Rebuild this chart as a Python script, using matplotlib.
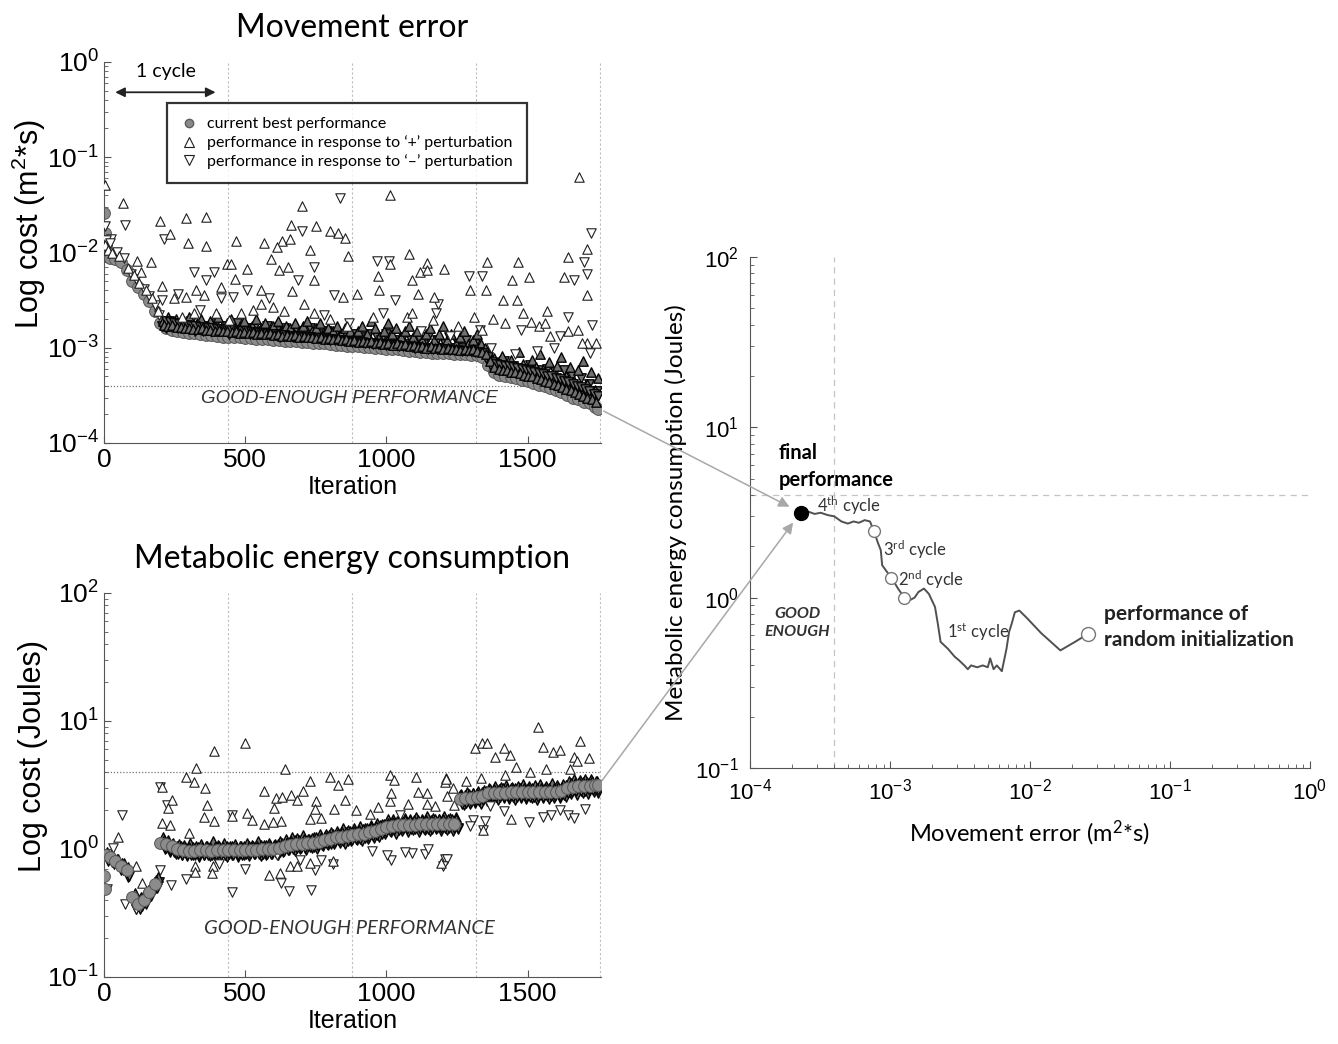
import numpy as np
import matplotlib.pyplot as plt
from matplotlib.lines import Line2D
from matplotlib.patches import ConnectionPatch

plt.rcParams['font.family'] = ['Liberation Sans', 'DejaVu Sans']
plt.rcParams['mathtext.default'] = 'regular'
CAL = ['Lato', 'DejaVu Sans']   # closest installed face to the Calibri-like labels

# ---------------- movement error (top left) ----------------
err_best_iter = [0, 3, 6, 10] + list(range(20, 1741, 20)) + [1750]
err_best = [0.0258, 0.016, 0.012, 0.0091,
            0.0087, 0.0085, 0.0080, 0.0066, 0.0050, 0.0043, 0.0037, 0.0031, 0.0024, 0.0018,
            0.00162, 0.00155, 0.00150, 0.00146, 0.00143, 0.00141, 0.00139, 0.00137, 0.00135, 0.00133,
            0.00131, 0.00130, 0.00129, 0.00128, 0.00127, 0.00126, 0.00124, 0.00123, 0.00122, 0.00121,
            0.00120, 0.00119, 0.00118, 0.00117, 0.00116, 0.00115, 0.00113, 0.00112, 0.00111, 0.00110,
            0.00108, 0.00107, 0.00105, 0.00104, 0.00103, 0.00102, 0.00101, 0.00100, 0.00099, 0.00098,
            0.00097, 0.00096, 0.00095, 0.00093, 0.00092, 0.00091, 0.00090, 0.00089, 0.00088, 0.00088,
            0.00087, 0.00086, 0.00085, 0.00085, 0.00084, 0.00083, 0.00080, 0.00066, 0.00055, 0.00052,
            0.00051, 0.00049, 0.00048, 0.00046, 0.00045, 0.00043, 0.00041, 0.00040, 0.00038, 0.00036,
            0.00034, 0.00032, 0.00030, 0.00029, 0.00027, 0.00026, 0.00024,
            0.00023]

err_plus = [(4, 0.051), (67, 0.033), (200, 0.0213), (290, 0.023), (360, 0.0236), (234, 0.0155),
            (297, 0.0127), (360, 0.0117), (469, 0.0132), (566, 0.0127), (702, 0.031), (664, 0.0193),
            (751, 0.0189), (800, 0.0168), (827, 0.0161), (853, 0.0143), (1013, 0.040), (1681, 0.062),
            (1709, 0.0108), (632, 0.0132), (611, 0.0113), (590, 0.0085), (660, 0.0137), (730, 0.0106),
            (865, 0.0092), (1079, 0.0096), (1144, 0.0077), (1204, 0.0067), (1358, 0.0079), (1466, 0.0079),
            (1504, 0.0055), (1444, 0.0051), (1644, 0.0089), (1709, 0.0036), (1630, 0.0055), (116, 0.0082),
            (165, 0.0080), (130, 0.0062), (207, 0.0044), (437, 0.0076), (451, 0.0076), (507, 0.0067),
            (465, 0.0053), (416, 0.0043), (325, 0.0040), (353, 0.0036), (555, 0.0040), (618, 0.0065),
            (650, 0.0070), (971, 0.0057), (1013, 0.0076), (1118, 0.0062), (1145, 0.0065), (1092, 0.0051),
            (897, 0.0037), (1113, 0.0037), (1169, 0.0034), (1295, 0.0040), (1351, 0.0040), (667, 0.0039),
            (744, 0.0051), (848, 0.0034), (974, 0.0040), (248, 0.0033), (290, 0.0034), (1413, 0.00316),
            (1462, 0.00316), (1567, 0.0024), (1379, 0.0020), (1483, 0.0023), (1539, 0.00168), (1511, 0.00188),
            (1709, 0.00113), (1741, 0.00113), (1072, 0.0021), (1090, 0.0023), (1166, 0.00196), (953, 0.0021),
            (1309, 0.0021), (1253, 0.00168), (1337, 0.00155), (1581, 0.00132), (1644, 0.00148), (1679, 0.00155),
            (1693, 0.00113), (1560, 0.00182), (1420, 0.00182), (555, 0.0029), (639, 0.0024), (744, 0.0023),
            (318, 0.0023), (276, 0.0021), (395, 0.0023), (527, 0.0025), (597, 0.0027), (709, 0.0029),
            (800, 0.0020), (862, 0.00168), (486, 0.0023), (444, 0.00196),
            (5, 0.012), (15, 0.0105), (30, 0.0098), (55, 0.0092), (85, 0.0068), (105, 0.0058),
            (125, 0.0048), (150, 0.0040), (170, 0.0033), (190, 0.0024)]

err_minus = [(4, 0.0189), (74, 0.0196), (25, 0.0137), (213, 0.0137), (834, 0.037), (702, 0.0168),
             (967, 0.0082), (1009, 0.0081), (318, 0.0062), (388, 0.0063), (360, 0.0051), (744, 0.0070),
             (688, 0.0051), (813, 0.0036), (1292, 0.0056), (1339, 0.0056), (1699, 0.0079), (1665, 0.0051),
             (1709, 0.0060), (1723, 0.0161), (1644, 0.0021), (1727, 0.00174), (1330, 0.00155), (1372, 0.0010),
             (1455, 0.00085), (1532, 0.00092), (1595, 0.0010), (1720, 0.00089), (1616, 0.00132), (869, 0.0018),
             (779, 0.0022), (507, 0.0040), (416, 0.0033), (207, 0.0032), (339, 0.0025), (1176, 0.0023),
             (988, 0.0023), (1476, 0.00155), (1121, 0.00149), (1225, 0.00132), (583, 0.0033), (458, 0.0034),
             (262, 0.0037), (1030, 0.0032), (1183, 0.0029),
             (8, 0.0135), (20, 0.0125), (45, 0.0100), (70, 0.0088), (95, 0.0060), (115, 0.0052),
             (140, 0.0041), (160, 0.0035), (180, 0.0028), (195, 0.0022)]

# the dense dark band of trials sitting just above the best performance
err_plus_band = [(210, 0.0019), (225, 0.0021), (240, 0.0018), (255, 0.0020), (270, 0.0017), (285, 0.0019),
                 (300, 0.0021), (315, 0.0017), (330, 0.0018), (345, 0.0020), (360, 0.0016), (375, 0.0019),
                 (390, 0.0017), (405, 0.0021), (420, 0.0016), (435, 0.0018), (450, 0.0020), (465, 0.0016),
                 (480, 0.0017), (495, 0.0019), (510, 0.0015), (525, 0.0017), (540, 0.0020), (555, 0.0016),
                 (570, 0.0018), (585, 0.0015), (600, 0.0017), (615, 0.0019), (630, 0.0015), (645, 0.0017),
                 (660, 0.0016), (675, 0.0018), (690, 0.0015), (705, 0.0017), (720, 0.0019), (735, 0.0015),
                 (750, 0.0016), (765, 0.0018), (780, 0.0014), (795, 0.0016), (810, 0.0015), (825, 0.0017),
                 (840, 0.0014), (855, 0.0016), (870, 0.0015), (885, 0.0013), (900, 0.0015), (915, 0.0017),
                 (930, 0.0014), (945, 0.0019), (960, 0.0016), (975, 0.0013), (990, 0.0015), (1005, 0.0018),
                 (1020, 0.0014), (1035, 0.0016), (1050, 0.0013), (1065, 0.0015), (1080, 0.0017), (1095, 0.0013),
                 (1110, 0.0015), (1125, 0.0012), (1140, 0.0014), (1155, 0.0016), (1170, 0.0012), (1185, 0.0014),
                 (1200, 0.0017), (1215, 0.0012), (1230, 0.0014), (1245, 0.0011), (1260, 0.0013), (1275, 0.0015),
                 (1290, 0.0011), (1305, 0.0012), (1320, 0.0014), (1335, 0.0011), (1350, 0.0010), (1365, 0.00085),
                 (1380, 0.00078), (1395, 0.00070), (1410, 0.00082), (1425, 0.00066), (1440, 0.00075), (1455, 0.00062),
                 (1470, 0.00090), (1485, 0.00068), (1500, 0.00058), (1515, 0.00075), (1530, 0.00062), (1545, 0.00085),
                 (1560, 0.00055), (1575, 0.00070), (1590, 0.00052), (1605, 0.00065), (1620, 0.00080), (1635, 0.00050),
                 (1650, 0.00062), (1665, 0.00045), (1680, 0.00058), (1695, 0.00072), (1710, 0.00042), (1725, 0.00055),
                 (1740, 0.00036), (1750, 0.00048)]

err_minus_band = [(205, 0.0017), (218, 0.0016), (232, 0.0019), (248, 0.0017), (262, 0.0016), (278, 0.0018),
                  (292, 0.0016), (308, 0.0019), (322, 0.0015), (338, 0.0017), (352, 0.0015), (368, 0.0017),
                  (382, 0.0015), (398, 0.0018), (412, 0.0015), (428, 0.0017), (442, 0.0014), (458, 0.0016),
                  (472, 0.0018), (488, 0.0015), (502, 0.0016), (518, 0.0014), (532, 0.0016), (548, 0.0014),
                  (562, 0.0015), (578, 0.0017), (592, 0.0014), (608, 0.0015), (622, 0.0013), (638, 0.0016),
                  (652, 0.0014), (668, 0.0013), (682, 0.0015), (698, 0.0013), (712, 0.0014), (728, 0.0016),
                  (742, 0.0013), (758, 0.0014), (772, 0.0013), (788, 0.0015), (802, 0.0012), (818, 0.0014),
                  (832, 0.0012), (848, 0.0013), (862, 0.0012), (878, 0.0014), (892, 0.0012), (908, 0.0013),
                  (922, 0.0012), (938, 0.0014), (952, 0.0011), (968, 0.0013), (982, 0.0012), (998, 0.0014),
                  (1012, 0.0011), (1028, 0.0012), (1042, 0.0011), (1058, 0.0013), (1072, 0.0011), (1088, 0.0012),
                  (1102, 0.0010), (1118, 0.0012), (1132, 0.0011), (1148, 0.0013), (1162, 0.0010), (1178, 0.0012),
                  (1192, 0.0010), (1208, 0.0011), (1222, 0.0013), (1238, 0.0010), (1252, 0.0011), (1268, 0.0010),
                  (1282, 0.0012), (1298, 0.00098), (1312, 0.0011), (1328, 0.00096), (1342, 0.00090), (1358, 0.00075),
                  (1372, 0.00065), (1388, 0.00062), (1402, 0.00060), (1418, 0.00072), (1432, 0.00058), (1448, 0.00065),
                  (1462, 0.00055), (1478, 0.00060), (1492, 0.00052), (1508, 0.00066), (1522, 0.00050), (1538, 0.00058),
                  (1552, 0.00047), (1568, 0.00060), (1582, 0.00045), (1598, 0.00055), (1612, 0.00042), (1628, 0.00058),
                  (1642, 0.00040), (1658, 0.00050), (1672, 0.00037), (1688, 0.00048), (1702, 0.00034), (1718, 0.00042),
                  (1732, 0.00031), (1745, 0.00035)]

# trials packed right on top of the best-performance strip
err_plus_near = [(212, 0.00175), (227, 0.00168), (242, 0.00172), (257, 0.00163), (272, 0.00165), (287, 0.0016),
                 (302, 0.00162), (317, 0.00158), (332, 0.00156), (347, 0.0016), (362, 0.00152), (377, 0.00155),
                 (392, 0.0015), (407, 0.00153), (422, 0.00148), (437, 0.0015), (452, 0.00146), (467, 0.00149),
                 (482, 0.00144), (497, 0.00147), (512, 0.00142), (527, 0.00145), (542, 0.0014), (557, 0.00143),
                 (572, 0.00138), (587, 0.00141), (602, 0.00136), (617, 0.00139), (632, 0.00134), (647, 0.00137),
                 (662, 0.00132), (677, 0.00135), (692, 0.0013), (707, 0.00133), (722, 0.00128), (737, 0.00131),
                 (752, 0.00126), (767, 0.00129), (782, 0.00124), (797, 0.00127), (812, 0.00122), (827, 0.00125),
                 (842, 0.0012), (857, 0.00123), (872, 0.00118), (887, 0.00121), (902, 0.00116), (917, 0.00119),
                 (932, 0.00114), (947, 0.00117), (962, 0.00112), (977, 0.00115), (992, 0.0011), (1007, 0.00113),
                 (1022, 0.00108), (1037, 0.00111), (1052, 0.00106), (1067, 0.00109), (1082, 0.00104), (1097, 0.00107),
                 (1112, 0.00102), (1127, 0.00105), (1142, 0.001), (1157, 0.00103), (1172, 0.00099), (1187, 0.00101),
                 (1202, 0.00097), (1217, 0.001), (1232, 0.00096), (1247, 0.00098), (1262, 0.00095), (1277, 0.00097),
                 (1292, 0.00094), (1307, 0.00096), (1322, 0.00093), (1337, 0.0009), (1352, 0.00086), (1367, 0.00072),
                 (1382, 0.00063), (1397, 0.00060), (1412, 0.00059), (1427, 0.00058), (1442, 0.00056), (1457, 0.00055),
                 (1472, 0.00054), (1487, 0.00052), (1502, 0.00051), (1517, 0.0005), (1532, 0.00048), (1547, 0.00047),
                 (1562, 0.00045), (1577, 0.00044), (1592, 0.00042), (1607, 0.00041), (1622, 0.00039), (1637, 0.00037),
                 (1652, 0.00036), (1667, 0.00034), (1682, 0.00033), (1697, 0.00031), (1712, 0.0003), (1727, 0.00029),
                 (1742, 0.00027)]

err_minus_near = [(219, 0.0019), (234, 0.00185), (249, 0.0018), (264, 0.00178), (279, 0.00175), (294, 0.00172),
                  (309, 0.0017), (324, 0.00168), (339, 0.00166), (354, 0.00164), (369, 0.00162), (384, 0.0016),
                  (399, 0.00158), (414, 0.00156), (429, 0.00155), (444, 0.00153), (459, 0.00152), (474, 0.0015),
                  (489, 0.00149), (504, 0.00148), (519, 0.00146), (534, 0.00145), (549, 0.00143), (564, 0.00142),
                  (579, 0.0014), (594, 0.00139), (609, 0.00138), (624, 0.00137), (639, 0.00136), (654, 0.00134),
                  (669, 0.00133), (684, 0.00132), (699, 0.0013), (714, 0.00129), (729, 0.00128), (744, 0.00127),
                  (759, 0.00126), (774, 0.00124), (789, 0.00123), (804, 0.00122), (819, 0.00121), (834, 0.0012),
                  (849, 0.00118), (864, 0.00117), (879, 0.00116), (894, 0.00115), (909, 0.00114), (924, 0.00113),
                  (939, 0.00112), (954, 0.00111), (969, 0.0011), (984, 0.00109), (999, 0.00108), (1014, 0.00107),
                  (1029, 0.00106), (1044, 0.00105), (1059, 0.00104), (1074, 0.00103), (1089, 0.00102), (1104, 0.00101),
                  (1119, 0.001), (1134, 0.00099), (1149, 0.00098), (1164, 0.00098), (1179, 0.00097), (1194, 0.00096),
                  (1209, 0.00096), (1224, 0.00095), (1239, 0.00094), (1254, 0.00094), (1269, 0.00093), (1284, 0.00092),
                  (1299, 0.00092), (1314, 0.00091), (1329, 0.0009), (1344, 0.00088), (1359, 0.0008), (1374, 0.0007),
                  (1389, 0.00068), (1404, 0.00066), (1419, 0.00065), (1434, 0.00064), (1449, 0.00062), (1464, 0.00061),
                  (1479, 0.0006), (1494, 0.00058), (1509, 0.00057), (1524, 0.00056), (1539, 0.00054), (1554, 0.00053),
                  (1569, 0.00051), (1584, 0.0005), (1599, 0.00048), (1614, 0.00047), (1629, 0.00045), (1644, 0.00044),
                  (1659, 0.00042), (1674, 0.0004), (1689, 0.00039), (1704, 0.00037), (1719, 0.00035), (1734, 0.00033),
                  (1748, 0.00031)]

# ---------------- metabolic energy (bottom left) ----------------
met_best_iter = [0, 3, 8] + list(range(20, 1741, 20)) + [1750]
met_best = [0.61, 0.49, 0.90,
            0.86, 0.80, 0.74, 0.68, 0.42, 0.37, 0.40, 0.46, 0.53, 1.12,
            1.10, 1.05, 1.00, 0.98, 0.97, 0.97, 0.98, 0.98, 0.97, 0.98,
            0.98, 0.99, 0.98, 0.98, 0.99, 0.99, 0.99, 1.00, 1.00, 1.00,
            1.02, 1.05, 1.08, 1.10, 1.10, 1.11, 1.12, 1.14, 1.17, 1.20,
            1.23, 1.25, 1.26, 1.28, 1.30, 1.32, 1.35, 1.38, 1.42, 1.48,
            1.52, 1.53, 1.54, 1.55, 1.55, 1.56, 1.56, 1.56, 1.57, 1.57,
            1.57, 1.58, 2.45, 2.48, 2.52, 2.55, 2.58, 2.72, 2.75, 2.76,
            2.76, 2.77, 2.77, 2.78, 2.78, 2.78, 2.79, 2.79, 2.80, 2.80,
            2.82, 3.00, 3.05, 3.08, 3.10, 3.12, 3.14,
            3.16]

met_plus = [(51, 1.25), (112, 0.73), (134, 0.54), (205, 1.59), (234, 1.55), (240, 2.41), (228, 2.08),
            (205, 3.07), (291, 3.67), (325, 4.27), (320, 3.36), (359, 2.98), (364, 2.21), (355, 1.79),
            (388, 5.86), (501, 6.7), (453, 1.81), (507, 1.92), (566, 2.84), (601, 2.10), (609, 2.49),
            (583, 0.63), (300, 1.33), (388, 1.66), (386, 0.73), (382, 0.65), (323, 0.73), (323, 0.66),
            (524, 1.67), (566, 1.57), (640, 4.2), (729, 3.42), (800, 3.67), (865, 3.5), (830, 3.16),
            (1012, 3.8), (1026, 3.47), (1106, 3.64), (1206, 3.36), (1212, 3.6), (705, 2.84), (631, 2.57),
            (664, 2.64), (682, 2.43), (752, 2.35), (852, 2.4), (893, 2.02), (814, 2.04), (746, 2.07),
            (770, 1.74), (729, 1.72), (942, 1.89), (971, 2.12), (1012, 2.35), (1018, 2.75), (1113, 2.78),
            (1143, 2.75), (1077, 2.23), (1143, 2.23), (1173, 2.16), (628, 1.65), (599, 1.63), (623, 0.65),
            (658, 0.73), (682, 0.73), (729, 0.78), (811, 0.8), (1195, 0.78), (1537, 9.0), (1313, 6.1),
            (1340, 6.7), (1357, 6.7), (1417, 6.1), (1437, 5.4), (1384, 5.2), (1554, 6.3), (1590, 5.7),
            (1613, 5.9), (1686, 7.0), (1666, 5.2), (1716, 5.1), (1674, 4.9), (1460, 4.35), (1566, 4.2),
            (1210, 3.5), (1283, 3.4), (1334, 3.6), (1419, 3.8), (1507, 4.0), (1649, 4.2), (1236, 2.98),
            (1213, 2.6), (1442, 1.7), (1342, 1.4), (1240, 2.2)]

met_minus = [(63, 1.85), (33, 1.01), (199, 3.07), (222, 2.19), (199, 0.69), (238, 0.52), (291, 0.58),
             (453, 0.46), (453, 1.84), (501, 0.70), (409, 0.77), (75, 0.37), (114, 0.34), (9, 0.49),
             (628, 0.54), (655, 0.47), (734, 0.48), (746, 0.68), (770, 0.82), (811, 0.76), (611, 0.89),
             (693, 0.82), (1018, 0.82), (1001, 0.9), (1137, 0.91), (1090, 0.93), (1066, 0.95), (948, 0.97),
             (1048, 1.84), (1149, 1.0), (1206, 0.84), (1213, 0.83), (1199, 0.73), (1307, 1.68), (1348, 1.66),
             (1342, 1.40), (1295, 1.5), (1505, 1.63), (1554, 1.79), (1584, 1.84), (1613, 2.0), (1643, 1.84),
             (1666, 1.75), (1702, 2.07), (1415, 1.98), (1368, 2.17)]

met_plus_band = [(10, 0.95), (30, 0.9), (50, 0.84), (70, 0.78), (110, 0.45), (130, 0.42), (150, 0.47),
                 (170, 0.52), (190, 0.6), (210, 1.25), (225, 1.18), (245, 1.12), (265, 1.1), (285, 1.08),
                 (305, 1.12), (325, 1.05), (345, 1.1), (365, 1.06), (385, 1.15), (405, 1.08), (425, 1.12),
                 (445, 1.05), (465, 1.1), (485, 1.06), (505, 1.12), (525, 1.08), (545, 1.15), (565, 1.08),
                 (585, 1.12), (605, 1.1), (625, 1.15), (645, 1.2), (665, 1.25), (685, 1.22), (705, 1.28),
                 (725, 1.2), (745, 1.25), (765, 1.3), (785, 1.32), (805, 1.35), (825, 1.38), (845, 1.45),
                 (865, 1.4), (885, 1.45), (905, 1.5), (925, 1.45), (945, 1.55), (965, 1.6), (985, 1.58),
                 (1005, 1.7), (1025, 1.72), (1045, 1.68), (1065, 1.75), (1085, 1.7), (1105, 1.78), (1125, 1.72),
                 (1145, 1.8), (1165, 1.75), (1185, 1.72), (1205, 1.8), (1225, 1.75), (1245, 1.78), (1265, 2.7),
                 (1285, 2.8), (1305, 2.75), (1325, 2.85), (1345, 2.9), (1365, 3.0), (1385, 3.1), (1405, 3.05),
                 (1425, 3.15), (1445, 3.05), (1465, 3.1), (1485, 3.2), (1505, 3.1), (1525, 3.15), (1545, 3.2),
                 (1565, 3.1), (1585, 3.25), (1605, 3.15), (1625, 3.2), (1645, 3.4), (1665, 3.5), (1685, 3.45),
                 (1705, 3.55), (1725, 3.5), (1745, 3.4)]

met_minus_band = [(15, 0.8), (35, 0.76), (60, 0.68), (85, 0.6), (115, 0.34), (135, 0.36), (155, 0.42),
                  (175, 0.48), (195, 0.55), (215, 1.0), (235, 0.95), (255, 0.92), (275, 0.9), (295, 0.88),
                  (315, 0.9), (335, 0.86), (355, 0.9), (375, 0.88), (395, 0.85), (415, 0.9), (435, 0.87),
                  (455, 0.9), (475, 0.86), (495, 0.9), (515, 0.88), (535, 0.92), (555, 0.88), (575, 0.9),
                  (595, 0.92), (615, 0.9), (635, 0.95), (655, 0.98), (675, 0.96), (695, 1.0), (715, 0.98),
                  (735, 1.02), (755, 1.0), (775, 1.05), (795, 1.08), (815, 1.1), (835, 1.12), (855, 1.1),
                  (875, 1.15), (895, 1.18), (915, 1.15), (935, 1.2), (955, 1.22), (975, 1.25), (995, 1.3),
                  (1015, 1.35), (1035, 1.32), (1055, 1.38), (1075, 1.35), (1095, 1.4), (1115, 1.36), (1135, 1.4),
                  (1155, 1.38), (1175, 1.42), (1195, 1.37), (1215, 1.4), (1235, 1.38), (1255, 1.42), (1275, 2.2),
                  (1295, 2.25), (1315, 2.3), (1335, 2.25), (1355, 2.35), (1375, 2.45), (1395, 2.4), (1415, 2.5),
                  (1435, 2.45), (1455, 2.4), (1475, 2.5), (1495, 2.45), (1515, 2.5), (1535, 2.42), (1555, 2.5),
                  (1575, 2.45), (1595, 2.5), (1615, 2.48), (1635, 2.55), (1655, 2.7), (1675, 2.65), (1695, 2.75),
                  (1715, 2.7), (1735, 2.8), (1750, 2.75)]

met_plus_near = [(25, 0.9), (45, 0.84), (65, 0.78), (85, 0.72), (125, 0.4), (145, 0.44), (165, 0.5),
                 (185, 0.57), (212, 1.18), (227, 1.14), (242, 1.1), (257, 1.06), (272, 1.05), (287, 1.04),
                 (302, 1.03), (317, 1.04), (332, 1.03), (347, 1.04), (362, 1.05), (377, 1.03), (392, 1.04),
                 (407, 1.05), (422, 1.04), (437, 1.05), (452, 1.05), (467, 1.04), (482, 1.05), (497, 1.05),
                 (512, 1.06), (527, 1.05), (542, 1.06), (557, 1.07), (572, 1.07), (587, 1.07), (602, 1.08),
                 (617, 1.09), (632, 1.12), (647, 1.14), (662, 1.16), (677, 1.17), (692, 1.18), (707, 1.19),
                 (722, 1.2), (737, 1.21), (752, 1.23), (767, 1.25), (782, 1.27), (797, 1.29), (812, 1.31),
                 (827, 1.33), (842, 1.35), (857, 1.36), (872, 1.38), (887, 1.39), (902, 1.41), (917, 1.43),
                 (932, 1.46), (947, 1.48), (962, 1.5), (977, 1.53), (992, 1.57), (1007, 1.6), (1022, 1.63),
                 (1037, 1.65), (1052, 1.66), (1067, 1.67), (1082, 1.67), (1097, 1.68), (1112, 1.68), (1127, 1.69),
                 (1142, 1.69), (1157, 1.69), (1172, 1.7), (1187, 1.7), (1202, 1.7), (1217, 1.71), (1232, 1.71),
                 (1247, 1.72), (1262, 2.62), (1277, 2.66), (1292, 2.7), (1307, 2.73), (1322, 2.75), (1337, 2.78),
                 (1352, 2.85), (1367, 2.92), (1382, 2.95), (1397, 2.96), (1412, 2.97), (1427, 2.97), (1442, 2.98),
                 (1457, 2.98), (1472, 2.99), (1487, 2.99), (1502, 3.0), (1517, 3.0), (1532, 3.0), (1547, 3.01),
                 (1562, 3.01), (1577, 3.02), (1592, 3.02), (1607, 3.03), (1622, 3.05), (1637, 3.15), (1652, 3.27),
                 (1667, 3.3), (1682, 3.32), (1697, 3.34), (1712, 3.36), (1727, 3.38), (1742, 3.39)]

met_minus_near = [(28, 0.79), (48, 0.74), (68, 0.68), (88, 0.62), (128, 0.34), (148, 0.37), (168, 0.43),
                  (188, 0.5), (218, 1.02), (233, 0.98), (248, 0.95), (263, 0.92), (278, 0.9), (293, 0.9),
                  (308, 0.89), (323, 0.9), (338, 0.9), (353, 0.9), (368, 0.9), (383, 0.89), (398, 0.9),
                  (413, 0.9), (428, 0.9), (443, 0.91), (458, 0.9), (473, 0.9), (488, 0.9), (503, 0.91),
                  (518, 0.91), (533, 0.91), (548, 0.92), (563, 0.92), (578, 0.92), (593, 0.92), (608, 0.93),
                  (623, 0.94), (638, 0.96), (653, 0.99), (668, 1.0), (683, 1.01), (698, 1.01), (713, 1.02),
                  (728, 1.03), (743, 1.04), (758, 1.05), (773, 1.07), (788, 1.09), (803, 1.1), (818, 1.13),
                  (833, 1.15), (848, 1.16), (863, 1.16), (878, 1.18), (893, 1.19), (908, 1.2), (923, 1.22),
                  (938, 1.24), (953, 1.26), (968, 1.28), (983, 1.31), (998, 1.35), (1013, 1.39), (1028, 1.4),
                  (1043, 1.41), (1058, 1.42), (1073, 1.42), (1088, 1.43), (1103, 1.43), (1118, 1.43), (1133, 1.44),
                  (1148, 1.44), (1163, 1.44), (1178, 1.45), (1193, 1.45), (1208, 1.45), (1223, 1.45), (1238, 1.45),
                  (1253, 1.46), (1268, 2.26), (1283, 2.28), (1298, 2.32), (1313, 2.35), (1328, 2.37), (1343, 2.4),
                  (1358, 2.5), (1373, 2.53), (1388, 2.54), (1403, 2.54), (1418, 2.55), (1433, 2.55), (1448, 2.55),
                  (1463, 2.56), (1478, 2.56), (1493, 2.56), (1508, 2.56), (1523, 2.57), (1538, 2.57), (1553, 2.57),
                  (1568, 2.58), (1583, 2.58), (1598, 2.58), (1613, 2.59), (1628, 2.62), (1643, 2.76), (1658, 2.81),
                  (1673, 2.84), (1688, 2.85), (1703, 2.86), (1718, 2.88), (1733, 2.9), (1748, 2.91)]

# ---------------- trade-off path (right) ----------------
path_err = [0.0258, 0.021, 0.0165, 0.012, 0.0095, 0.0084, 0.0078, 0.0074, 0.0071, 0.0068, 0.0063,
            0.0058, 0.0055, 0.0052, 0.0050, 0.0046, 0.0042, 0.0038, 0.0036, 0.0034, 0.0031, 0.0029,
            0.0026, 0.0023, 0.0022, 0.0021, 0.0019, 0.00175, 0.0016, 0.0015, 0.0014, 0.00127, 0.00115,
            0.00108, 0.00102, 0.00095, 0.00088, 0.00086, 0.00082, 0.00077, 0.00072, 0.00066, 0.00060,
            0.00055, 0.00050, 0.00045, 0.00040, 0.00036, 0.00032, 0.00029, 0.00026, 0.00023]
path_met = [0.61, 0.55, 0.49, 0.62, 0.76, 0.84, 0.82, 0.70, 0.63, 0.50, 0.37,
            0.40, 0.38, 0.44, 0.39, 0.40, 0.39, 0.40, 0.38, 0.40, 0.43, 0.45,
            0.50, 0.55, 0.70, 0.88, 1.05, 1.13, 1.08, 1.00, 0.97, 1.00, 1.12,
            1.22, 1.31, 1.42, 1.55, 1.90, 2.10, 2.45, 2.80, 2.85, 2.75,
            2.80, 2.72, 2.80, 3.00, 3.05, 3.15, 3.10, 3.20, 3.16]
cycle_err = [0.00077, 0.00102, 0.00127]
cycle_met = [2.45, 1.31, 1.00]

cycle_bounds = [439, 878, 1317, 1756]
good_err = 4e-4
good_met = 4.0


def pairs(p):
    a = np.array(p)
    return a[:, 0], a[:, 1]


fig = plt.figure(figsize=(13.38, 10.44), dpi=100)
ax1 = fig.add_axes([0.0777, 0.5757, 0.3715, 0.365])
ax2 = fig.add_axes([0.0777, 0.0642, 0.3715, 0.3678])
ax3 = fig.add_axes([0.5605, 0.2644, 0.4185, 0.4895])

tri = dict(facecolors='white', edgecolors='#1e1e1e', linewidths=0.8, s=46)
tri_dense = dict(facecolors='#707070', edgecolors='#050505', linewidths=1.0, s=46)
dot = dict(c='#8c8c8c', edgecolors='#555555', linewidths=0.7, s=72)


def iter_panel(ax, best_it, best, plus, minus, dense, good, ylim, ylabel, title,
               good_y, good_font, good_size, best_z):
    for xs in cycle_bounds:
        ax.axvline(xs, color='#bdbdbd', lw=0.8, ls=(0, (2, 2)), zorder=0)
    ax.plot([0, 1756], [good, good], color='#777777', lw=0.9, ls=(0, (1, 1.5)), zorder=1)
    for pts, m in dense:
        x, y = pairs(pts)
        ax.scatter(x, y, marker=m, zorder=3, **tri_dense)
    for pts, m in [(minus, 'v'), (plus, '^')]:
        x, y = pairs(pts)
        ax.scatter(x, y, marker=m, zorder=3, **tri)
    ax.scatter(best_it, best, zorder=best_z, **dot)
    ax.set_yscale('log')
    ax.set_ylim(*ylim)
    ax.set_xlim(0, 1760)
    ax.set_xticks([0, 500, 1000, 1500])
    for s in ['top', 'right']:
        ax.spines[s].set_visible(False)
    ax.spines['left'].set_color('#555555')
    ax.spines['bottom'].set_color('#555555')
    ax.tick_params(which='both', direction='in', labelsize=19, color='#555555')
    ax.tick_params(which='major', length=5)
    ax.tick_params(which='minor', length=3)
    ax.set_xlabel('Iteration', fontsize=18, labelpad=2)
    ax.set_ylabel(ylabel, fontsize=22)
    ax.yaxis.set_label_coords(-0.112, 0.575)
    ax.set_title(title, fontsize=23, family=CAL, pad=18)
    ax.text(870, good_y, 'GOOD-ENOUGH PERFORMANCE', ha='center', va='center', style='italic',
            fontsize=good_size, color='#333333', family=good_font)


iter_panel(ax1, err_best_iter, err_best, err_plus, err_minus,
           [(err_minus_band, 'v'), (err_plus_band, '^'), (err_minus_near, 'v'), (err_plus_near, '^')],
           good_err, (1e-4, 1), r'Log cost (m$^{2}$*s)', 'Movement error', 2.95e-4,
           ['Liberation Sans'], 13.5, 2)
iter_panel(ax2, met_best_iter, met_best, met_plus, met_minus,
           [(met_minus_band, 'v'), (met_plus_band, '^'), (met_minus_near, 'v'), (met_plus_near, '^')],
           good_met, (0.1, 100), 'Log cost (Joules)', 'Metabolic energy consumption', 0.24, CAL, 14.5, 4)

# cycle length marker
ax1.annotate('', xy=(30, 0.48), xytext=(405, 0.48),
             arrowprops=dict(arrowstyle='<|-|>', color='#222222', lw=1.3, mutation_scale=14))
ax1.text(220, 0.80, '1 cycle', ha='center', va='center', fontsize=14, family=CAL)

handles = [Line2D([], [], ls='', marker='o', ms=6, mfc='#8a8a8a', mec='#5e5e5e'),
           Line2D([], [], ls='', marker='^', ms=7, mfc='white', mec='#1e1e1e', mew=0.8),
           Line2D([], [], ls='', marker='v', ms=7, mfc='white', mec='#1e1e1e', mew=0.8)]
labels = ['current best performance',
          'performance in response to \u2018+\u2019 perturbation',
          'performance in response to \u2018\u2013\u2019 perturbation']
leg = ax1.legend(handles, labels, loc='upper left', bbox_to_anchor=(0.127, 0.893), frameon=True,
                 fancybox=False, prop={'family': CAL, 'size': 11.5}, handlelength=1.0,
                 handletextpad=0.6, labelspacing=0.25, borderpad=0.9, borderaxespad=0)
leg.get_frame().set_edgecolor('black')
leg.get_frame().set_linewidth(1.6)
leg.set_zorder(6)

# right panel: energy against error
ax3.axvline(good_err, color='#c4c4c4', lw=0.9, ls=(0, (5, 4)), zorder=0)
ax3.axhline(good_met, color='#c4c4c4', lw=0.9, ls=(0, (5, 4)), zorder=0)
ax3.plot(path_err, path_met, color='#505050', lw=1.4, zorder=2)
ax3.plot(cycle_err, cycle_met, ls='', marker='o', ms=8.5, mfc='white', mec='#777777', mew=1.0, zorder=3)
ax3.plot(path_err[0], path_met[0], ls='', marker='o', ms=10, mfc='white', mec='#777777', mew=1.0, zorder=3)
ax3.plot(path_err[-1], path_met[-1], ls='', marker='o', ms=10, mfc='black', mec='black', zorder=4)
ax3.set_xscale('log')
ax3.set_yscale('log')
ax3.set_xlim(1e-4, 1)
ax3.set_ylim(0.1, 100)
for s in ['top', 'right']:
    ax3.spines[s].set_visible(False)
ax3.spines['left'].set_color('#555555')
ax3.spines['bottom'].set_color('#555555')
ax3.tick_params(which='both', direction='in', labelsize=16, color='#555555')
ax3.tick_params(axis='y', which='major', pad=8)
ax3.tick_params(axis='x', which='major', pad=8)
ax3.tick_params(which='major', length=5)
ax3.tick_params(which='minor', length=3)
ax3.set_xlabel(r'Movement error (m$^{2}$*s)', fontsize=17, family=CAL, labelpad=10)
ax3.set_ylabel('Metabolic energy consumption (Joules)', fontsize=17.5, family=CAL, labelpad=6)

ax3.text(1.6e-4, 5.9, 'final\nperformance', ha='left', va='center', fontsize=14.5,
         fontweight='bold', family=CAL, linespacing=1.45)
ax3.text(2.17e-4, 0.71, 'GOOD\nENOUGH', ha='center', va='center', fontsize=11.5,
         fontweight='bold', style='italic', family=CAL, color='#333333', linespacing=1.3)
ax3.text(0.0338, 0.67, 'performance of\nrandom initialization', ha='left', va='center',
         fontsize=15, fontweight='bold', family=CAL, color='#222222', linespacing=1.4)
for lab, x, y in [('4$^{th}$ cycle', 3.0e-4, 3.45), ('3$^{rd}$ cycle', 8.9e-4, 1.9),
                  ('2$^{nd}$ cycle', 1.14e-3, 1.27), ('1$^{st}$ cycle', 2.55e-3, 0.63)]:
    ax3.text(x, y, lab, ha='left', va='center', fontsize=12, family=CAL, color='#333333')

# arrows from the end of each run to the final point
for ax_src, pt in [(ax1, (1752, err_best[-1])), (ax2, (1752, met_best[-1]))]:
    con = ConnectionPatch(xyA=pt, coordsA=ax_src.transData,
                          xyB=(path_err[-1], path_met[-1]), coordsB=ax3.transData,
                          arrowstyle='-|>', color='#a8a8a8', lw=1.1, mutation_scale=16,
                          shrinkA=4, shrinkB=9, zorder=5)
    fig.add_artist(con)

fig.savefig('out.png', dpi=100)
